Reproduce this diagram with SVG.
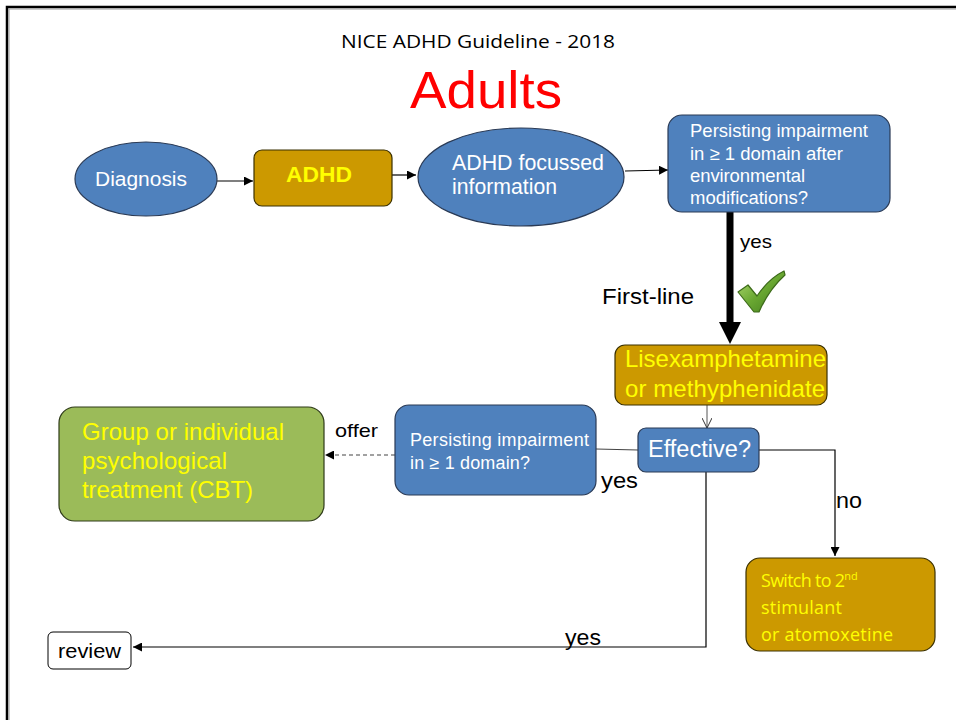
<svg xmlns="http://www.w3.org/2000/svg" width="956" height="720" viewBox="0 0 956 720">
  <style>
    .blue { fill: #4F81BD; stroke: #2a3a55; stroke-width: 1.2; }
    .gold { fill: #CC9900; stroke: #3a3000; stroke-width: 1.2; }
    .green { fill: #9BBB59; stroke: #2e3a18; stroke-width: 1.2; }
    .wht { font-family: "Liberation Sans", Arial, sans-serif; fill: #ffffff; }
    .ylw { font-family: "Liberation Sans", Arial, sans-serif; fill: #ffff00; }
    .blk { font-family: "Liberation Sans", Arial, sans-serif; fill: #000000; }
    .cal { font-family: "Open Sans", "Liberation Sans", sans-serif; }
    .ln { fill: none; stroke: #000; stroke-width: 1.2; }
  </style>
  <defs>
    <marker id="arr" viewBox="0 0 10 10" refX="10" refY="5" markerWidth="9" markerHeight="9" markerUnits="userSpaceOnUse" orient="auto">
      <path d="M0,0 L10,5 L0,10 z" fill="#000"/>
    </marker>
    <marker id="open" viewBox="0 0 10 10" refX="10" refY="5" markerWidth="10" markerHeight="10" markerUnits="userSpaceOnUse" orient="auto">
      <path d="M0,0 L10,5 L0,10" fill="none" stroke="#333" stroke-width="1"/>
    </marker>
    <linearGradient id="tick" x1="0" y1="0" x2="1" y2="1">
      <stop offset="0" stop-color="#b8e07a"/>
      <stop offset="0.5" stop-color="#6aa832"/>
      <stop offset="1" stop-color="#3f7a1c"/>
    </linearGradient>
  </defs>

  <rect width="956" height="720" fill="#ffffff"/>
  <!-- page frame -->
  <path d="M7,720 V7 H956" fill="none" stroke="#000" stroke-width="2.5"/>
  <path d="M9,720 V9 H956" fill="none" stroke="#999" stroke-width="1"/>

  <!-- headings -->
  <text x="341" y="48" class="blk cal" font-size="18" textLength="274" lengthAdjust="spacingAndGlyphs">NICE ADHD Guideline - 2018</text>
  <text x="410" y="108" font-family="Liberation Sans, Arial, sans-serif" font-size="52" fill="#ff0000" textLength="152" lengthAdjust="spacingAndGlyphs">Adults</text>

  <!-- connectors -->
  <g id="connectors">
    <line x1="217" y1="181" x2="253" y2="181" class="ln" stroke-width="2.5" marker-end="url(#arr)"/>
    <line x1="392" y1="175" x2="416" y2="175" class="ln" stroke-width="2.5" marker-end="url(#arr)"/>
    <line x1="625" y1="171" x2="668" y2="170" class="ln" stroke-width="2.5" marker-end="url(#arr)"/>
    <!-- thick first-line arrow -->
    <line x1="730" y1="212" x2="730" y2="324" stroke="#000" stroke-width="7"/>
    <path d="M719,322 L741,322 L730,344 z" fill="#000"/>
    <!-- into Effective? -->
    <line x1="707" y1="405" x2="707" y2="428" stroke="#555" stroke-width="1" marker-end="url(#open)"/>
    <!-- Effective? to persisting box -->
    <line x1="638" y1="450" x2="596" y2="449" stroke="#444" stroke-width="1.2"/>
    <!-- offer (dashed) -->
    <line x1="395" y1="455" x2="325" y2="455" stroke="#444" stroke-width="1.2" stroke-dasharray="4,3" marker-end="url(#arr)"/>
    <!-- no -->
    <polyline points="759,450 835,450 835,556" class="ln" marker-end="url(#arr)"/>
    <!-- yes to review -->
    <polyline points="706,472 706,647 133,647" class="ln" marker-end="url(#arr)"/>
  </g>

  <!-- connector labels -->
  <text x="740" y="248" class="blk" font-size="19" textLength="32" lengthAdjust="spacingAndGlyphs">yes</text>
  <text x="602" y="304" class="blk" font-size="22" textLength="92" lengthAdjust="spacingAndGlyphs">First-line</text>
  <text x="335" y="437" class="blk" font-size="19" textLength="43" lengthAdjust="spacingAndGlyphs">offer</text>
  <text x="601" y="488" class="blk" font-size="22" textLength="37" lengthAdjust="spacingAndGlyphs">yes</text>
  <text x="836" y="508" class="blk" font-size="22" textLength="26" lengthAdjust="spacingAndGlyphs">no</text>
  <text x="565" y="645" class="blk" font-size="22" textLength="36" lengthAdjust="spacingAndGlyphs">yes</text>

  <!-- tick mark -->
  <path d="M738,292 L748,285 L757,296 C765,284 774,276 784,271 L785,275 C775,284 766,296 759,312 L754,312 Z" fill="url(#tick)" stroke="#3d6b1a" stroke-width="1.2" stroke-linejoin="round"/>

  <g id="diagnosis">
    <ellipse cx="146" cy="179" rx="71" ry="37" class="blue"/>
    <text x="95" y="186" class="wht" font-size="20" textLength="92" lengthAdjust="spacingAndGlyphs">Diagnosis</text>
  </g>

  <g id="adhd">
    <rect x="254" y="150" width="138" height="56" rx="8" class="gold"/>
    <text x="286" y="182" class="ylw" font-size="22" font-weight="bold" textLength="66" lengthAdjust="spacingAndGlyphs">ADHD</text>
  </g>

  <g id="information">
    <ellipse cx="521" cy="177" rx="103" ry="49" class="blue"/>
    <text x="452" y="170" class="wht" font-size="21.5" textLength="152" lengthAdjust="spacingAndGlyphs">ADHD focussed</text>
    <text x="452" y="194" class="wht" font-size="21.5" textLength="105" lengthAdjust="spacingAndGlyphs">information</text>
  </g>

  <g id="persisting-env">
    <rect x="668" y="115" width="222" height="97" rx="14" class="blue"/>
    <text class="wht" font-size="18.5" lengthAdjust="spacingAndGlyphs">
      <tspan x="690" y="137" textLength="178">Persisting impairment</tspan>
      <tspan x="690" y="160" textLength="153">in ≥ 1 domain after</tspan>
      <tspan x="690" y="182" textLength="115">environmental</tspan>
      <tspan x="690" y="204" textLength="118">modifications?</tspan>
    </text>
  </g>

  <g id="stimulant">
    <rect x="615" y="345" width="212" height="60" rx="10" class="gold"/>
    <text class="ylw" font-size="24" lengthAdjust="spacingAndGlyphs">
      <tspan x="625" y="367" textLength="201">Lisexamphetamine</tspan>
      <tspan x="625" y="397" textLength="200">or methyphenidate</tspan>
    </text>
  </g>

  <g id="effective">
    <rect x="638" y="428" width="121" height="44" rx="8" class="blue"/>
    <text x="648" y="457" class="wht" font-size="23" textLength="103" lengthAdjust="spacingAndGlyphs">Effective?</text>
  </g>

  <g id="persisting">
    <rect x="395" y="405" width="201" height="90" rx="14" class="blue"/>
    <text class="wht" font-size="18" lengthAdjust="spacingAndGlyphs">
      <tspan x="410" y="446" textLength="179">Persisting impairment</tspan>
      <tspan x="410" y="469" textLength="120">in ≥ 1 domain?</tspan>
    </text>
  </g>

  <g id="psych-treatment">
    <rect x="59" y="407" width="265" height="114" rx="16" class="green"/>
    <text class="ylw" font-size="24" lengthAdjust="spacingAndGlyphs">
      <tspan x="82" y="440" textLength="202">Group or individual</tspan>
      <tspan x="82" y="469" textLength="145">psychological</tspan>
      <tspan x="82" y="498" textLength="171">treatment (CBT)</tspan>
    </text>
  </g>

  <g id="switch">
    <rect x="746" y="558" width="189" height="93" rx="14" class="gold"/>
    <text class="ylw cal" font-size="18" lengthAdjust="spacingAndGlyphs">
      <tspan x="761" y="587" textLength="84">Switch to 2</tspan><tspan dy="-7" font-size="11">nd</tspan>
      <tspan x="761" y="614" textLength="81">stimulant</tspan>
      <tspan x="761" y="641" textLength="132">or atomoxetine</tspan>
    </text>
  </g>

  <g id="review">
    <rect x="48" y="632" width="83" height="37" rx="5" fill="#fff" stroke="#000" stroke-width="1"/>
    <text x="58" y="658" class="blk" font-size="20" textLength="63" lengthAdjust="spacingAndGlyphs">review</text>
  </g>
</svg>
